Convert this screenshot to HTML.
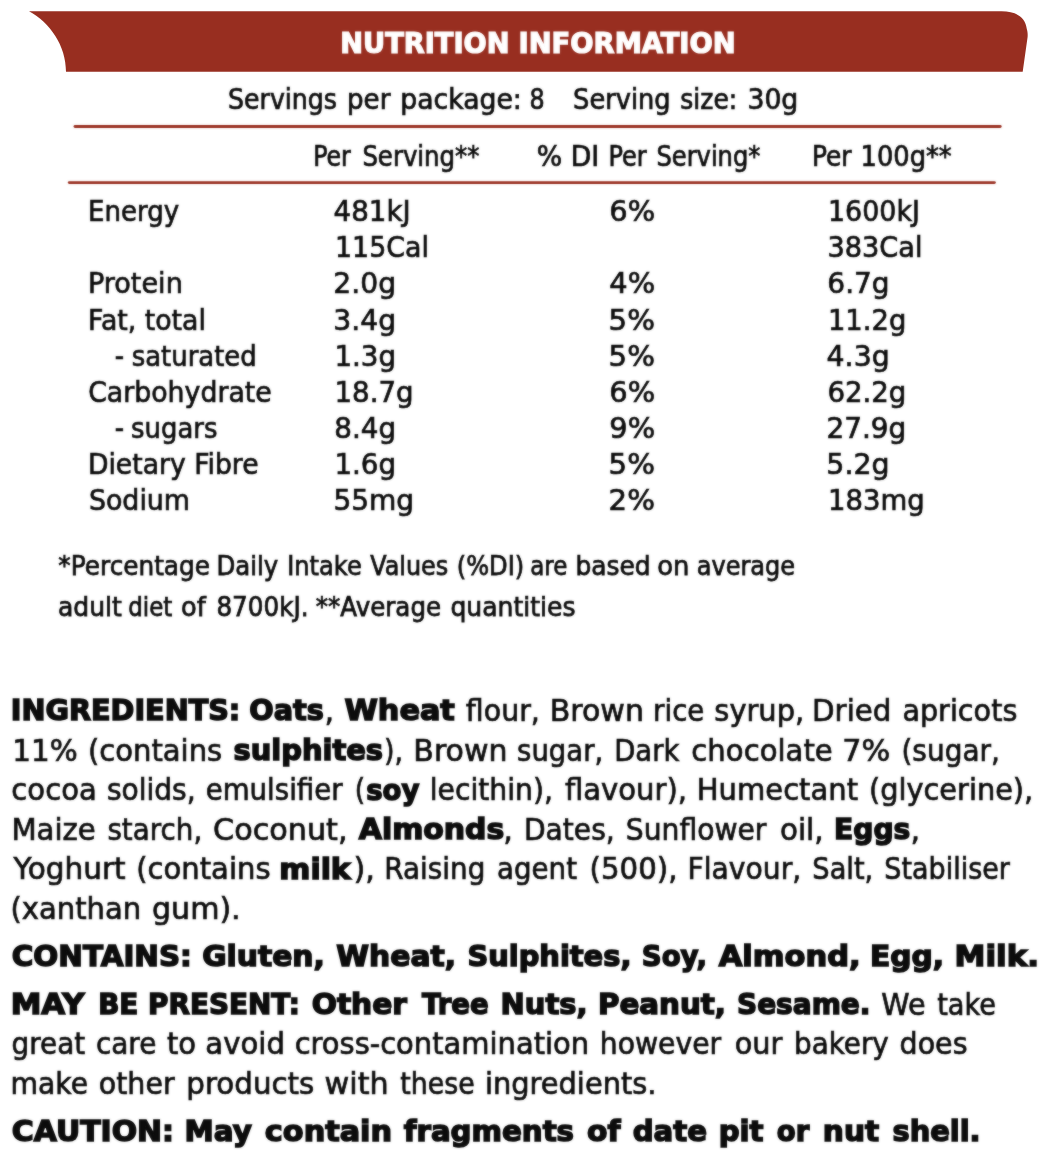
<!DOCTYPE html>
<html lang="en"><head><meta charset="utf-8"><title>Nutrition Information</title>
<style>
html,body{margin:0;padding:0;background:#fff;}
svg{display:block;}
text{fill:#0c0c0c;}
.r,.h,.R{stroke:#0c0c0c;stroke-width:0.7px;}
.f{stroke:#0c0c0c;stroke-width:0.75px;}
.t{font-family:"DejaVu Sans Condensed", "DejaVu Sans", "Liberation Sans", sans-serif;font-weight:bold;font-size:29.0px;fill:#fff;stroke:#fff;stroke-width:1.2px;}
.r{font-family:"DejaVu Sans", "DejaVu Sans", "Liberation Sans", sans-serif;font-size:28.4px;}
.h{font-family:"DejaVu Sans Condensed", "DejaVu Sans", "Liberation Sans", sans-serif;font-size:28.4px;}
.f{font-family:"DejaVu Sans", "DejaVu Sans", "Liberation Sans", sans-serif;font-size:26.0px;}
.R{font-family:"DejaVu Sans", "DejaVu Sans", "Liberation Sans", sans-serif;font-size:29.6px;}
.b{font-family:"DejaVu Sans", "DejaVu Sans", "Liberation Sans", sans-serif;font-weight:bold;font-size:28.3px;stroke:#0c0c0c;stroke-width:1.5px;}
</style></head>
<body>
<svg width="1048" height="1164" viewBox="0 0 1048 1164">
<defs>
<filter id="soft" filterUnits="userSpaceOnUse" x="0" y="0" width="1048" height="1164" color-interpolation-filters="sRGB"><feGaussianBlur stdDeviation="0.9" result="b"/><feComposite in="SourceGraphic" in2="b" operator="arithmetic" k1="0" k2="0.55" k3="0.44999999999999996" k4="0"/></filter>
<filter id="soft2" filterUnits="userSpaceOnUse" x="0" y="0" width="1048" height="1164" color-interpolation-filters="sRGB"><feGaussianBlur stdDeviation="0.9"/></filter>
</defs>
<path d="M29,11.2 L1001.5,11.2 C1016,11.2 1025.4,17 1026.8,29 C1027.6,32 1027.8,34 1027.6,37 L1022.7,71.7 L66,71.7 C66,45.5 50,22.6 29,11.2 Z" fill="#982e20"/>
<g filter="url(#soft)" stroke="#9a3021" stroke-width="2.9" stroke-linecap="round">
<line x1="75" y1="126.5" x2="1000.2" y2="126.5"/>
<line x1="69.3" y1="182.6" x2="994.4" y2="182.6"/>
</g>

<g filter="url(#soft)">
<text class="t" x="340.31" y="52.90" textLength="169.20" lengthAdjust="spacingAndGlyphs">NUTRITION</text>
<text class="t" x="518.50" y="52.90" textLength="217.22" lengthAdjust="spacingAndGlyphs">INFORMATION</text>
<text class="h" x="228.11" y="109.25" textLength="108.84" lengthAdjust="spacingAndGlyphs">Servings</text>
<text class="h" x="347.06" y="109.25" textLength="43.33" lengthAdjust="spacingAndGlyphs">per</text>
<text class="h" x="400.26" y="109.25" textLength="121.61" lengthAdjust="spacingAndGlyphs">package:</text>
<text class="h" x="529.42" y="109.25" textLength="15.14" lengthAdjust="spacingAndGlyphs">8</text>
<text class="h" x="573.10" y="109.25" textLength="97.54" lengthAdjust="spacingAndGlyphs">Serving</text>
<text class="h" x="680.37" y="109.25" textLength="56.83" lengthAdjust="spacingAndGlyphs">size:</text>
<text class="h" x="747.42" y="109.25" textLength="50.92" lengthAdjust="spacingAndGlyphs">30g</text>
<text class="h" x="313.14" y="165.75" textLength="37.64" lengthAdjust="spacingAndGlyphs">Per</text>
<text class="h" x="362.40" y="165.75" textLength="117.03" lengthAdjust="spacingAndGlyphs">Serving**</text>
<text class="h" x="536.71" y="165.75" textLength="25.38" lengthAdjust="spacingAndGlyphs">%</text>
<text class="h" x="570.79" y="165.75" textLength="28.43" lengthAdjust="spacingAndGlyphs">DI</text>
<text class="h" x="608.47" y="165.75" textLength="38.21" lengthAdjust="spacingAndGlyphs">Per</text>
<text class="h" x="656.40" y="165.75" textLength="104.03" lengthAdjust="spacingAndGlyphs">Serving*</text>
<text class="h" x="811.90" y="165.75" textLength="39.50" lengthAdjust="spacingAndGlyphs">Per</text>
<text class="h" x="860.59" y="165.75" textLength="91.08" lengthAdjust="spacingAndGlyphs">100g**</text>
<text class="r" x="88.02" y="221.30" textLength="91.12" lengthAdjust="spacingAndGlyphs">Energy</text>
<text class="r" x="333.62" y="221.30" textLength="77.09" lengthAdjust="spacingAndGlyphs">481kJ</text>
<text class="r" x="609.33" y="221.30" textLength="45.81" lengthAdjust="spacingAndGlyphs">6%</text>
<text class="r" x="828.01" y="221.30" textLength="91.89" lengthAdjust="spacingAndGlyphs">1600kJ</text>
<text class="r" x="335.01" y="257.37" textLength="93.92" lengthAdjust="spacingAndGlyphs">115Cal</text>
<text class="r" x="827.44" y="257.37" textLength="95.02" lengthAdjust="spacingAndGlyphs">383Cal</text>
<text class="r" x="87.94" y="293.44" textLength="94.86" lengthAdjust="spacingAndGlyphs">Protein</text>
<text class="r" x="333.36" y="293.44" textLength="62.80" lengthAdjust="spacingAndGlyphs">2.0g</text>
<text class="r" x="609.33" y="293.44" textLength="45.81" lengthAdjust="spacingAndGlyphs">4%</text>
<text class="r" x="827.36" y="293.44" textLength="62.28" lengthAdjust="spacingAndGlyphs">6.7g</text>
<text class="r" x="87.97" y="329.51" textLength="117.96" lengthAdjust="spacingAndGlyphs">Fat, total</text>
<text class="r" x="333.36" y="329.51" textLength="62.80" lengthAdjust="spacingAndGlyphs">3.4g</text>
<text class="r" x="608.57" y="329.51" textLength="46.32" lengthAdjust="spacingAndGlyphs">5%</text>
<text class="r" x="827.95" y="329.51" textLength="78.40" lengthAdjust="spacingAndGlyphs">11.2g</text>
<text class="r" x="131.75" y="365.58" textLength="124.94" lengthAdjust="spacingAndGlyphs">saturated</text>
<text class="r" x="334.42" y="365.58" textLength="61.70" lengthAdjust="spacingAndGlyphs">1.3g</text>
<text class="r" x="608.57" y="365.58" textLength="46.32" lengthAdjust="spacingAndGlyphs">5%</text>
<text class="r" x="826.60" y="365.58" textLength="63.07" lengthAdjust="spacingAndGlyphs">4.3g</text>
<text class="r" x="88.16" y="401.65" textLength="183.63" lengthAdjust="spacingAndGlyphs">Carbohydrate</text>
<text class="r" x="334.43" y="401.65" textLength="79.20" lengthAdjust="spacingAndGlyphs">18.7g</text>
<text class="r" x="609.33" y="401.65" textLength="45.81" lengthAdjust="spacingAndGlyphs">6%</text>
<text class="r" x="827.38" y="401.65" textLength="78.99" lengthAdjust="spacingAndGlyphs">62.2g</text>
<text class="r" x="131.12" y="437.72" textLength="86.33" lengthAdjust="spacingAndGlyphs">sugars</text>
<text class="r" x="334.37" y="437.72" textLength="61.75" lengthAdjust="spacingAndGlyphs">8.4g</text>
<text class="r" x="609.33" y="437.72" textLength="45.81" lengthAdjust="spacingAndGlyphs">9%</text>
<text class="r" x="826.38" y="437.72" textLength="80.01" lengthAdjust="spacingAndGlyphs">27.9g</text>
<text class="r" x="87.98" y="473.79" textLength="170.55" lengthAdjust="spacingAndGlyphs">Dietary Fibre</text>
<text class="r" x="334.42" y="473.79" textLength="61.70" lengthAdjust="spacingAndGlyphs">1.6g</text>
<text class="r" x="608.57" y="473.79" textLength="46.32" lengthAdjust="spacingAndGlyphs">5%</text>
<text class="r" x="826.34" y="473.79" textLength="63.33" lengthAdjust="spacingAndGlyphs">5.2g</text>
<text class="r" x="88.91" y="509.86" textLength="101.06" lengthAdjust="spacingAndGlyphs">Sodium</text>
<text class="r" x="333.38" y="509.86" textLength="80.77" lengthAdjust="spacingAndGlyphs">55mg</text>
<text class="r" x="608.57" y="509.86" textLength="46.32" lengthAdjust="spacingAndGlyphs">2%</text>
<text class="r" x="827.95" y="509.86" textLength="96.66" lengthAdjust="spacingAndGlyphs">183mg</text>
<text class="r" x="114.69" y="365.58" textLength="9.34" lengthAdjust="spacingAndGlyphs">-</text>
<text class="r" x="114.69" y="437.72" textLength="9.34" lengthAdjust="spacingAndGlyphs">-</text>
<text class="f" x="58.37" y="574.50" textLength="151.60" lengthAdjust="spacingAndGlyphs">*Percentage</text>
<text class="f" x="216.50" y="574.50" textLength="61.69" lengthAdjust="spacingAndGlyphs">Daily</text>
<text class="f" x="287.22" y="574.50" textLength="74.53" lengthAdjust="spacingAndGlyphs">Intake</text>
<text class="f" x="370.18" y="574.50" textLength="78.05" lengthAdjust="spacingAndGlyphs">Values</text>
<text class="f" x="456.72" y="574.50" textLength="67.50" lengthAdjust="spacingAndGlyphs">(%DI)</text>
<text class="f" x="530.21" y="574.50" textLength="37.18" lengthAdjust="spacingAndGlyphs">are</text>
<text class="f" x="575.46" y="574.50" textLength="75.21" lengthAdjust="spacingAndGlyphs">based</text>
<text class="f" x="657.18" y="574.50" textLength="32.22" lengthAdjust="spacingAndGlyphs">on</text>
<text class="f" x="696.75" y="574.50" textLength="98.40" lengthAdjust="spacingAndGlyphs">average</text>
<text class="f" x="58.01" y="615.75" textLength="63.90" lengthAdjust="spacingAndGlyphs">adult</text>
<text class="f" x="128.22" y="615.75" textLength="44.14" lengthAdjust="spacingAndGlyphs">diet</text>
<text class="f" x="181.09" y="615.75" textLength="24.70" lengthAdjust="spacingAndGlyphs">of</text>
<text class="f" x="216.43" y="615.75" textLength="92.15" lengthAdjust="spacingAndGlyphs">8700kJ.</text>
<text class="f" x="315.77" y="615.75" textLength="125.29" lengthAdjust="spacingAndGlyphs">**Average</text>
<text class="f" x="450.41" y="615.75" textLength="125.14" lengthAdjust="spacingAndGlyphs">quantities</text>
<text class="b" x="10.72" y="720.15" textLength="229.62" lengthAdjust="spacingAndGlyphs">INGREDIENTS:</text>
<text class="b" x="249.24" y="720.15" textLength="74.62" lengthAdjust="spacingAndGlyphs">Oats</text>
<text class="b" x="344.50" y="720.15" textLength="110.31" lengthAdjust="spacingAndGlyphs">Wheat</text>
<text class="R" x="324.40" y="720.75" textLength="9.61" lengthAdjust="spacingAndGlyphs">,</text>
<text class="R" x="465.85" y="720.75" textLength="74.01" lengthAdjust="spacingAndGlyphs">flour,</text>
<text class="R" x="549.72" y="720.75" textLength="94.21" lengthAdjust="spacingAndGlyphs">Brown</text>
<text class="R" x="653.08" y="720.75" textLength="51.30" lengthAdjust="spacingAndGlyphs">rice</text>
<text class="R" x="714.37" y="720.75" textLength="89.82" lengthAdjust="spacingAndGlyphs">syrup,</text>
<text class="R" x="812.07" y="720.75" textLength="79.35" lengthAdjust="spacingAndGlyphs">Dried</text>
<text class="R" x="902.38" y="720.75" textLength="114.94" lengthAdjust="spacingAndGlyphs">apricots</text>
<text class="R" x="12.37" y="760.50" textLength="65.40" lengthAdjust="spacingAndGlyphs">11%</text>
<text class="R" x="87.89" y="760.50" textLength="134.41" lengthAdjust="spacingAndGlyphs">(contains</text>
<text class="R" x="384.03" y="760.50" textLength="19.06" lengthAdjust="spacingAndGlyphs">),</text>
<text class="R" x="413.32" y="760.50" textLength="94.11" lengthAdjust="spacingAndGlyphs">Brown</text>
<text class="R" x="517.12" y="760.50" textLength="86.06" lengthAdjust="spacingAndGlyphs">sugar,</text>
<text class="R" x="614.19" y="760.50" textLength="65.16" lengthAdjust="spacingAndGlyphs">Dark</text>
<text class="R" x="691.37" y="760.50" textLength="141.37" lengthAdjust="spacingAndGlyphs">chocolate</text>
<text class="R" x="842.33" y="760.50" textLength="47.94" lengthAdjust="spacingAndGlyphs">7%</text>
<text class="R" x="901.46" y="760.50" textLength="98.46" lengthAdjust="spacingAndGlyphs">(sugar,</text>
<text class="b" x="233.48" y="759.90" textLength="149.63" lengthAdjust="spacingAndGlyphs">sulphites</text>
<text class="R" x="11.37" y="800.20" textLength="85.38" lengthAdjust="spacingAndGlyphs">cocoa</text>
<text class="R" x="106.90" y="800.20" textLength="88.78" lengthAdjust="spacingAndGlyphs">solids,</text>
<text class="R" x="205.67" y="800.20" textLength="136.96" lengthAdjust="spacingAndGlyphs">emulsifier</text>
<text class="R" x="354.69" y="800.20" textLength="10.45" lengthAdjust="spacingAndGlyphs">(</text>
<text class="R" x="429.69" y="800.20" textLength="123.25" lengthAdjust="spacingAndGlyphs">lecithin),</text>
<text class="R" x="564.95" y="800.20" textLength="122.06" lengthAdjust="spacingAndGlyphs">flavour),</text>
<text class="R" x="696.79" y="800.20" textLength="161.25" lengthAdjust="spacingAndGlyphs">Humectant</text>
<text class="R" x="868.90" y="800.20" textLength="164.39" lengthAdjust="spacingAndGlyphs">(glycerine),</text>
<text class="b" x="366.26" y="799.60" textLength="53.20" lengthAdjust="spacingAndGlyphs">soy</text>
<text class="R" x="11.38" y="839.70" textLength="84.46" lengthAdjust="spacingAndGlyphs">Maize</text>
<text class="R" x="107.41" y="839.70" textLength="94.79" lengthAdjust="spacingAndGlyphs">starch,</text>
<text class="R" x="213.14" y="839.70" textLength="134.45" lengthAdjust="spacingAndGlyphs">Coconut,</text>
<text class="R" x="503.30" y="839.70" textLength="9.61" lengthAdjust="spacingAndGlyphs">,</text>
<text class="R" x="523.95" y="839.70" textLength="90.79" lengthAdjust="spacingAndGlyphs">Dates,</text>
<text class="R" x="625.80" y="839.70" textLength="140.66" lengthAdjust="spacingAndGlyphs">Sunflower</text>
<text class="R" x="779.96" y="839.70" textLength="43.58" lengthAdjust="spacingAndGlyphs">oil,</text>
<text class="R" x="910.55" y="839.70" textLength="9.61" lengthAdjust="spacingAndGlyphs">,</text>
<text class="b" x="358.75" y="839.10" textLength="145.59" lengthAdjust="spacingAndGlyphs">Almonds</text>
<text class="b" x="834.06" y="839.10" textLength="76.33" lengthAdjust="spacingAndGlyphs">Eggs</text>
<text class="R" x="13.55" y="879.40" textLength="112.10" lengthAdjust="spacingAndGlyphs">Yoghurt</text>
<text class="R" x="136.19" y="879.40" textLength="134.36" lengthAdjust="spacingAndGlyphs">(contains</text>
<text class="R" x="353.51" y="879.40" textLength="21.40" lengthAdjust="spacingAndGlyphs">),</text>
<text class="R" x="384.37" y="879.40" textLength="100.96" lengthAdjust="spacingAndGlyphs">Raising</text>
<text class="R" x="497.01" y="879.40" textLength="80.00" lengthAdjust="spacingAndGlyphs">agent</text>
<text class="R" x="589.58" y="879.40" textLength="87.85" lengthAdjust="spacingAndGlyphs">(500),</text>
<text class="R" x="687.44" y="879.40" textLength="113.80" lengthAdjust="spacingAndGlyphs">Flavour,</text>
<text class="R" x="812.33" y="879.40" textLength="60.94" lengthAdjust="spacingAndGlyphs">Salt,</text>
<text class="R" x="884.34" y="879.40" textLength="125.55" lengthAdjust="spacingAndGlyphs">Stabiliser</text>
<text class="b" x="279.34" y="878.80" textLength="71.36" lengthAdjust="spacingAndGlyphs">milk</text>
<text class="R" x="10.49" y="919.10" textLength="130.69" lengthAdjust="spacingAndGlyphs">(xanthan</text>
<text class="R" x="152.03" y="919.10" textLength="88.66" lengthAdjust="spacingAndGlyphs">gum).</text>
<text class="b" x="11.81" y="966.30" textLength="180.04" lengthAdjust="spacingAndGlyphs">CONTAINS:</text>
<text class="b" x="202.20" y="966.30" textLength="122.64" lengthAdjust="spacingAndGlyphs">Gluten,</text>
<text class="b" x="336.35" y="966.30" textLength="119.59" lengthAdjust="spacingAndGlyphs">Wheat,</text>
<text class="b" x="467.41" y="966.30" textLength="163.95" lengthAdjust="spacingAndGlyphs">Sulphites,</text>
<text class="b" x="641.80" y="966.30" textLength="65.13" lengthAdjust="spacingAndGlyphs">Soy,</text>
<text class="b" x="718.75" y="966.30" textLength="141.86" lengthAdjust="spacingAndGlyphs">Almond,</text>
<text class="b" x="870.05" y="966.30" textLength="74.08" lengthAdjust="spacingAndGlyphs">Egg,</text>
<text class="b" x="954.54" y="966.30" textLength="84.54" lengthAdjust="spacingAndGlyphs">Milk.</text>
<text class="b" x="10.67" y="1014.40" textLength="73.82" lengthAdjust="spacingAndGlyphs">MAY</text>
<text class="b" x="98.19" y="1014.40" textLength="40.17" lengthAdjust="spacingAndGlyphs">BE</text>
<text class="b" x="148.08" y="1014.40" textLength="151.74" lengthAdjust="spacingAndGlyphs">PRESENT:</text>
<text class="b" x="311.70" y="1014.40" textLength="95.20" lengthAdjust="spacingAndGlyphs">Other</text>
<text class="b" x="422.02" y="1014.40" textLength="66.61" lengthAdjust="spacingAndGlyphs">Tree</text>
<text class="b" x="500.61" y="1014.40" textLength="86.86" lengthAdjust="spacingAndGlyphs">Nuts,</text>
<text class="b" x="597.98" y="1014.40" textLength="127.92" lengthAdjust="spacingAndGlyphs">Peanut,</text>
<text class="b" x="736.97" y="1014.40" textLength="133.50" lengthAdjust="spacingAndGlyphs">Sesame.</text>
<text class="R" x="881.25" y="1015.00" textLength="44.27" lengthAdjust="spacingAndGlyphs">We</text>
<text class="R" x="937.15" y="1015.00" textLength="58.91" lengthAdjust="spacingAndGlyphs">take</text>
<text class="R" x="11.51" y="1053.90" textLength="73.71" lengthAdjust="spacingAndGlyphs">great</text>
<text class="R" x="95.91" y="1053.90" textLength="60.48" lengthAdjust="spacingAndGlyphs">care</text>
<text class="R" x="166.95" y="1053.90" textLength="29.19" lengthAdjust="spacingAndGlyphs">to</text>
<text class="R" x="205.37" y="1053.90" textLength="79.54" lengthAdjust="spacingAndGlyphs">avoid</text>
<text class="R" x="294.67" y="1053.90" textLength="294.50" lengthAdjust="spacingAndGlyphs">cross-contamination</text>
<text class="R" x="599.74" y="1053.90" textLength="121.41" lengthAdjust="spacingAndGlyphs">however</text>
<text class="R" x="734.68" y="1053.90" textLength="47.66" lengthAdjust="spacingAndGlyphs">our</text>
<text class="R" x="794.07" y="1053.90" textLength="94.76" lengthAdjust="spacingAndGlyphs">bakery</text>
<text class="R" x="899.59" y="1053.90" textLength="67.93" lengthAdjust="spacingAndGlyphs">does</text>
<text class="R" x="10.54" y="1093.80" textLength="77.56" lengthAdjust="spacingAndGlyphs">make</text>
<text class="R" x="98.79" y="1093.80" textLength="75.86" lengthAdjust="spacingAndGlyphs">other</text>
<text class="R" x="186.37" y="1093.80" textLength="127.99" lengthAdjust="spacingAndGlyphs">products</text>
<text class="R" x="324.58" y="1093.80" textLength="64.11" lengthAdjust="spacingAndGlyphs">with</text>
<text class="R" x="400.35" y="1093.80" textLength="74.49" lengthAdjust="spacingAndGlyphs">these</text>
<text class="R" x="484.90" y="1093.80" textLength="171.60" lengthAdjust="spacingAndGlyphs">ingredients.</text>
<text class="b" x="11.79" y="1140.80" textLength="162.20" lengthAdjust="spacingAndGlyphs">CAUTION:</text>
<text class="b" x="184.57" y="1140.80" textLength="67.34" lengthAdjust="spacingAndGlyphs">May</text>
<text class="b" x="264.88" y="1140.80" textLength="127.17" lengthAdjust="spacingAndGlyphs">contain</text>
<text class="b" x="403.75" y="1140.80" textLength="170.27" lengthAdjust="spacingAndGlyphs">fragments</text>
<text class="b" x="587.10" y="1140.80" textLength="33.43" lengthAdjust="spacingAndGlyphs">of</text>
<text class="b" x="632.72" y="1140.80" textLength="74.36" lengthAdjust="spacingAndGlyphs">date</text>
<text class="b" x="718.69" y="1140.80" textLength="44.80" lengthAdjust="spacingAndGlyphs">pit</text>
<text class="b" x="776.81" y="1140.80" textLength="32.46" lengthAdjust="spacingAndGlyphs">or</text>
<text class="b" x="822.86" y="1140.80" textLength="56.24" lengthAdjust="spacingAndGlyphs">nut</text>
<text class="b" x="892.53" y="1140.80" textLength="88.02" lengthAdjust="spacingAndGlyphs">shell.</text>
</g>
</svg>
</body></html>
